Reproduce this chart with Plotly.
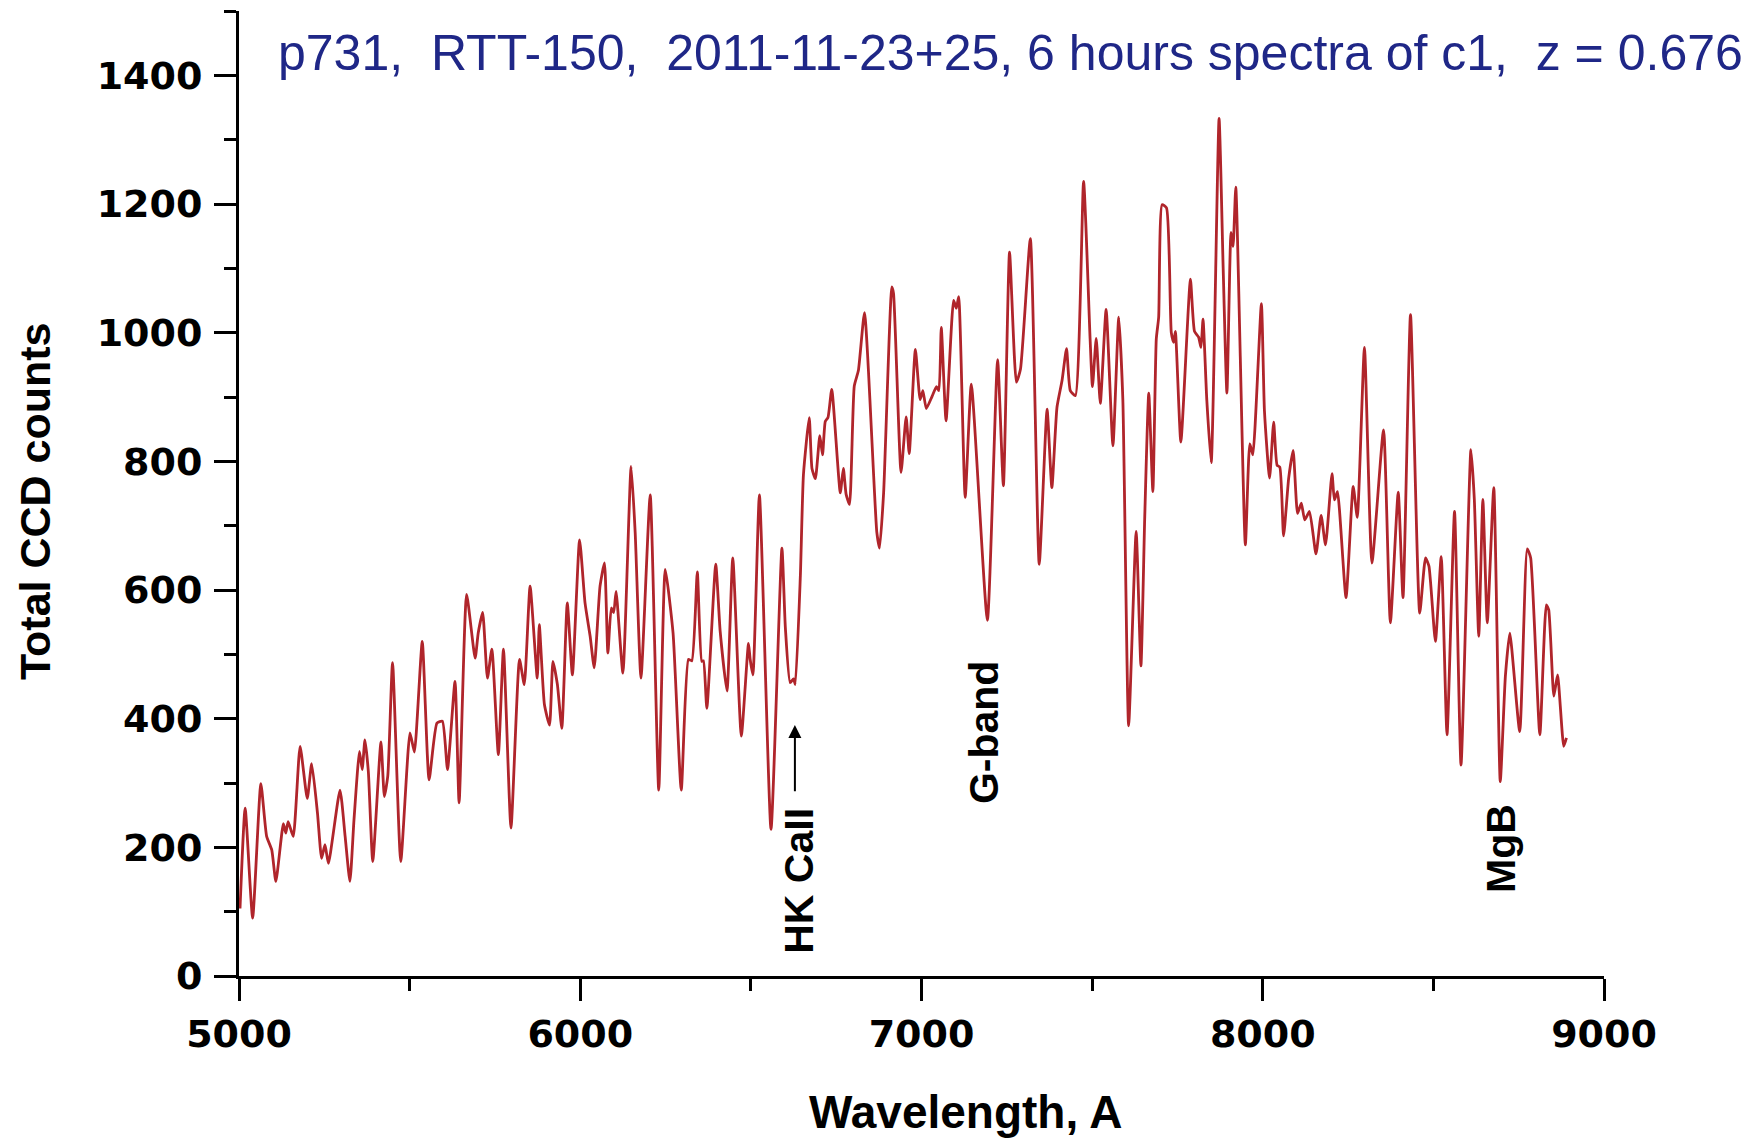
import plotly.graph_objects as go

# Spectrum of c1 (p731, RTT-150), wavelength in Angstrom vs total CCD counts
wavelength = [
    5003, 5018, 5040, 5064, 5081, 5096, 5108, 5130, 5137, 5144, 5159, 5179, 5200, 5213,
    5230, 5242, 5252, 5262, 5296, 5311, 5325, 5337, 5353, 5361, 5369, 5379, 5392, 5416,
    5426, 5436, 5450, 5474, 5501, 5514, 5537, 5557, 5580, 5596, 5611, 5633,
    5645, 5667, 5692, 5701, 5714, 5728, 5741, 5760, 5775, 5797, 5822, 5836, 5853, 5874,
    5880, 5895, 5910, 5920, 5933, 5946, 5962, 5977, 5998, 6014, 6029, 6041, 6058, 6071,
    6081, 6091, 6098, 6105, 6125, 6149, 6161, 6178, 6205, 6230, 6249, 6272,
    6296, 6317, 6327, 6343, 6356, 6361, 6371, 6397, 6410, 6430, 6447, 6472, 6493, 6498,
    6506, 6525, 6559, 6591, 6601, 6615, 6625, 6630, 6645, 6654, 6671, 6679, 6689, 6702,
    6710, 6718, 6726, 6737, 6762, 6771, 6779, 6789, 6803, 6815, 6833, 6869, 6877, 6889,
    6913, 6918, 6940, 6955, 6964, 6982, 6996, 7004, 7014, 7031, 7044, 7051, 7058, 7072,
    7094, 7102, 7109, 7128, 7146, 7193, 7223, 7240, 7258, 7278, 7290, 7319, 7345, 7368,
    7382, 7397, 7412, 7425, 7436, 7451, 7475, 7494, 7501, 7512, 7524, 7541, 7561,
    7578, 7590, 7607, 7629, 7643, 7654, 7666, 7678, 7688, 7695, 7705, 7718, 7732, 7739,
    7744, 7760, 7788, 7800, 7812, 7819, 7825, 7836, 7849, 7872, 7884, 7895, 7907, 7913,
    7921, 7949, 7962, 7971, 7996, 8005, 8020, 8032, 8042, 8050, 8061, 8076, 8089, 8102,
    8113, 8123, 8137, 8156, 8171, 8184, 8203, 8210, 8219,
    8244, 8265, 8277, 8298, 8320, 8354, 8374, 8397, 8411, 8433, 8460, 8477, 8487, 8506,
    8523, 8540, 8562, 8581, 8610, 8620, 8633, 8645, 8658, 8677, 8696, 8711, 8724, 8753,
    8775, 8785, 8812, 8831, 8838, 8853, 8864, 8882, 8890,
]
counts = [
    105, 261, 90, 299, 217, 196, 147, 237, 222, 240, 217, 357, 276, 330,
    253, 183, 204, 175, 289, 217, 147, 243, 349, 321, 367, 318, 178, 364,
    279, 311, 487, 178, 378, 348, 520, 305, 393, 396, 321, 458,
    269, 593, 494, 533, 565, 463, 508, 344, 508, 230, 492, 453, 606, 463,
    546, 422, 390, 489, 453, 385, 580, 468, 678, 580, 528, 479, 606, 642,
    502, 572, 565, 598, 471, 792, 689, 463, 748, 289, 632, 533,
    289, 492, 490, 628, 489, 490, 416, 640, 536, 443, 650, 373, 517, 492,
    468, 748, 228, 665, 542, 456, 462, 453, 622, 779, 868, 789, 773, 840,
    810, 862, 868, 912, 751, 789, 749, 733, 917, 941, 1031, 690, 665, 751,
    1071, 1061, 783, 869, 812, 974, 896, 910, 882, 901, 916, 910, 1008, 863,
    1050, 1038, 1056, 744, 920, 553, 958, 762, 1125, 923, 943, 1146, 640, 881,
    759, 884, 926, 975, 910, 902, 1235, 991, 916, 991, 890, 1036, 824,
    1024, 896, 389, 691, 482, 710, 906, 753, 990, 1024, 1199, 1194, 1000, 985,
    1002, 830, 1083, 1002, 993, 977, 1021, 896, 798, 1333, 1100, 906, 1156, 1134,
    1226, 670, 827, 810, 1045, 878, 774, 861, 794, 791, 684, 774, 817, 719,
    735, 709, 722, 656, 716, 670, 781, 740, 753,
    588, 761, 713, 977, 642, 849, 549, 752, 588, 1028, 564, 650, 637, 520,
    652, 375, 722, 328, 818, 741, 528, 741, 549, 759, 302, 466, 533, 380,
    664, 650, 375, 577, 569, 435, 468, 357, 370,
]

# Spectral feature labels: (text, wavelength, counts)
feature_labels = ["HK CaII", "G-band", "MgB"]
feature_x = [6641, 7184, 8696]
feature_y = [148, 378, 198]

# Arrow marking the HK CaII position: (wavelength, tail counts, head counts)
arrow_x = 6629
arrow_tail_y = 285
arrow_head_y = 390

title_text = "p731,  RTT-150,  2011-11-23+25, 6 hours spectra of c1,  z = 0.676"
x_title = "Wavelength, A"
y_title = "Total CCD counts"

fig = go.Figure()
fig.add_trace(go.Scatter(
    x=wavelength, y=counts, mode="lines",
    line=dict(color="#b0252b", width=2.8, shape="spline", smoothing=0.5),
    showlegend=False, hoverinfo="x+y",
))

tick_font = dict(family="DejaVu Sans", size=38, color="black", weight="bold")
axis_common = dict(
    showline=True, linecolor="black", linewidth=3,
    ticks="outside", ticklen=22, tickwidth=2.6, tickcolor="black",
    showgrid=False, zeroline=False, tickfont=tick_font,
)

fig.update_xaxes(
    range=[5000, 9000], tick0=5000, dtick=1000,
    minor=dict(dtick=500, ticks="outside", ticklen=12, tickwidth=2.6, tickcolor="black"),
    ticklabelstandoff=0,
    **axis_common,
)
fig.update_yaxes(
    range=[0, 1500], tick0=0, dtick=200,
    minor=dict(dtick=100, ticks="outside", ticklen=12, tickwidth=2.6, tickcolor="black"),
    ticklabelstandoff=4,
    **axis_common,
)

annotations = [
    dict(text=title_text, xref="paper", yref="paper", x=(276 - 239) / 1365, y=(976 - 53) / 965,
         xanchor="left", yanchor="middle", showarrow=False,
         font=dict(family="Liberation Sans, Arial, sans-serif", size=50, color="#1f2787")),
    dict(text=x_title, xref="paper", yref="paper", x=(966 - 239) / 1365, y=(976 - 1112) / 965,
         xanchor="center", yanchor="middle", showarrow=False,
         font=dict(family="Liberation Sans, Arial, sans-serif", size=46, color="black", weight="bold")),
    dict(text=y_title, xref="paper", yref="paper", x=(35 - 239) / 1365, y=(976 - 501) / 965,
         xanchor="center", yanchor="middle", textangle=-90, showarrow=False,
         font=dict(family="Liberation Sans, Arial, sans-serif", size=43, color="black", weight="bold")),
]
for label, fx, fy in zip(feature_labels, feature_x, feature_y):
    annotations.append(dict(
        text=label, x=fx, y=fy, xref="x", yref="y", textangle=-90,
        xanchor="center", yanchor="middle", showarrow=False,
        font=dict(family="Liberation Sans, Arial, sans-serif", size=41, color="black", weight="bold"),
    ))
annotations.append(dict(
    text="", x=arrow_x, y=arrow_head_y, ax=arrow_x, ay=arrow_tail_y,
    xref="x", yref="y", axref="x", ayref="y",
    showarrow=True, arrowhead=2, arrowsize=1.3, arrowwidth=2, arrowcolor="black",
))

fig.update_layout(
    width=1751, height=1146,
    margin=dict(l=239, r=147, t=11, b=170),
    paper_bgcolor="white", plot_bgcolor="white",
    annotations=annotations,
)

fig.write_html("out.html")
